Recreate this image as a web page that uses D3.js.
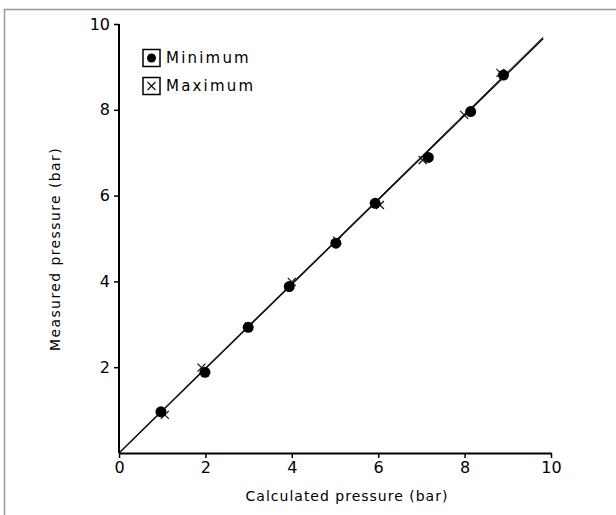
<!DOCTYPE html>
<html>
<head>
<meta charset="utf-8">
<script src="https://cdn.jsdelivr.net/npm/d3@7"></script>
<style>
  body { margin: 0; background: #fff; }
  svg { display: block; font-family: "DejaVu Sans", sans-serif; }
</style>
</head>
<body>
<script>
// values
let minX = [0.97, 1.99, 2.99, 3.94, 5.02, 5.93, 7.16, 8.14, 8.90];
let minY = [0.96, 1.88, 2.93, 3.88, 4.89, 5.82, 6.89, 7.96, 8.81];
let maxX = [1.06, 1.91, 3.01, 4.00, 5.05, 6.04, 7.03, 7.99, 8.83];
let maxY = [0.89, 1.99, 2.95, 3.99, 4.95, 5.78, 6.83, 7.88, 8.86];
let fitX = [0, 9.82];
let minFitY = [0, 9.66];
let maxFitY = [0, 9.70];
let xTicks = [0, 2, 4, 6, 8, 10];
let yTicks = [2, 4, 6, 8, 10];

let width = 616, height = 515;
let svg = d3.select("body").append("svg")
    .attr("width", width)
    .attr("height", height);

// frame (top and left edges only, as in the reference)
svg.append("line").attr("x1", 4).attr("x2", width).attr("y1", 9.5).attr("y2", 9.5)
    .attr("stroke", "#999").attr("stroke-width", 1.5);
svg.append("line").attr("x1", 4.5).attr("x2", 4.5).attr("y1", 9).attr("y2", height)
    .attr("stroke", "#999").attr("stroke-width", 1.5);

let x = d3.scaleLinear([0, 10], [119, 551]);
let y = d3.scaleLinear([0, 10], [453, 24]);

let xAxis = svg.append("g")
    .attr("transform", `translate(0,${y(0)})`)
    .call(d3.axisBottom(x).tickValues(xTicks).tickSize(5).tickPadding(4).tickSizeOuter(0));
let yAxis = svg.append("g")
    .attr("transform", `translate(${x(0)},0)`)
    .call(d3.axisLeft(y).tickValues(yTicks).tickSize(5).tickPadding(4).tickSizeOuter(0));

[xAxis, yAxis].forEach(g => {
    g.select(".domain").attr("stroke-width", 2).attr("stroke", "#000");
    g.selectAll(".tick line").attr("stroke-width", 1.5).attr("stroke", "#000");
    g.selectAll("text").style("font-size", "16px").attr("fill", "#000")
        .style("font-family", "\"DejaVu Sans\", sans-serif");
});
// y axis line runs from 0 to 10
yAxis.select(".domain").attr("d", `M0,${y(0)}V${y(10)}`);

// fit lines
let line = d3.line().x(d => x(d[0])).y(d => y(d[1]));
svg.append("path").datum(d3.zip(fitX, minFitY))
    .attr("d", line).attr("fill", "none").attr("stroke", "#000").attr("stroke-width", 1.5);
svg.append("path").datum(d3.zip(fitX, maxFitY))
    .attr("d", line).attr("fill", "none").attr("stroke", "#222").attr("stroke-width", 0.9);

// maximum: crosses
let cs = 4;
svg.append("g").selectAll("path")
    .data(d3.zip(maxX, maxY))
    .join("path")
    .attr("d", d => {
        let px = x(d[0]), py = y(d[1]);
        return `M${px - cs},${py - cs}L${px + cs},${py + cs}M${px - cs},${py + cs}L${px + cs},${py - cs}`;
    })
    .attr("stroke", "#111").attr("stroke-width", 1.2).attr("fill", "none");

// minimum: filled circles
svg.append("g").selectAll("circle")
    .data(d3.zip(minX, minY))
    .join("circle")
    .attr("cx", d => x(d[0]))
    .attr("cy", d => y(d[1]))
    .attr("r", 5.5)
    .attr("fill", "#000");

// axis titles
svg.append("text")
    .attr("x", (x(0) + x(10)) / 2 + 12)
    .attr("y", 501)
    .attr("text-anchor", "middle")
    .style("font-size", "14px")
    .style("letter-spacing", "1px")
    .attr("fill", "#000")
    .text("Calculated pressure (bar)");
svg.append("text")
    .attr("transform", "translate(60,249) rotate(-90)")
    .attr("text-anchor", "middle")
    .style("font-size", "14px")
    .style("letter-spacing", "1.4px")
    .attr("fill", "#000")
    .text("Measured pressure (bar)");

// legend
let legend = svg.append("g");
let legendItems = ["Minimum", "Maximum"];
legendItems.forEach((name, i) => {
    let ly = 58 + i * 28;
    legend.append("rect")
        .attr("x", 143).attr("y", ly - 8.5)
        .attr("width", 17).attr("height", 17)
        .attr("fill", "#fff").attr("stroke", "#000").attr("stroke-width", 1.5);
    if (i == 0) {
        legend.append("circle").attr("cx", 151.5).attr("cy", ly).attr("r", 4.5).attr("fill", "#000");
    } else {
        legend.append("path")
            .attr("d", `M${151.5 - 4},${ly - 4}L${151.5 + 4},${ly + 4}M${151.5 - 4},${ly + 4}L${151.5 + 4},${ly - 4}`)
            .attr("stroke", "#111").attr("stroke-width", 1.2);
    }
    legend.append("text")
        .attr("x", 166).attr("y", ly)
        .attr("dy", "0.36em")
        .style("font-size", "15px")
        .style("letter-spacing", "2.2px")
        .attr("fill", "#000")
        .text(name);
});
</script>
</body>
</html>
